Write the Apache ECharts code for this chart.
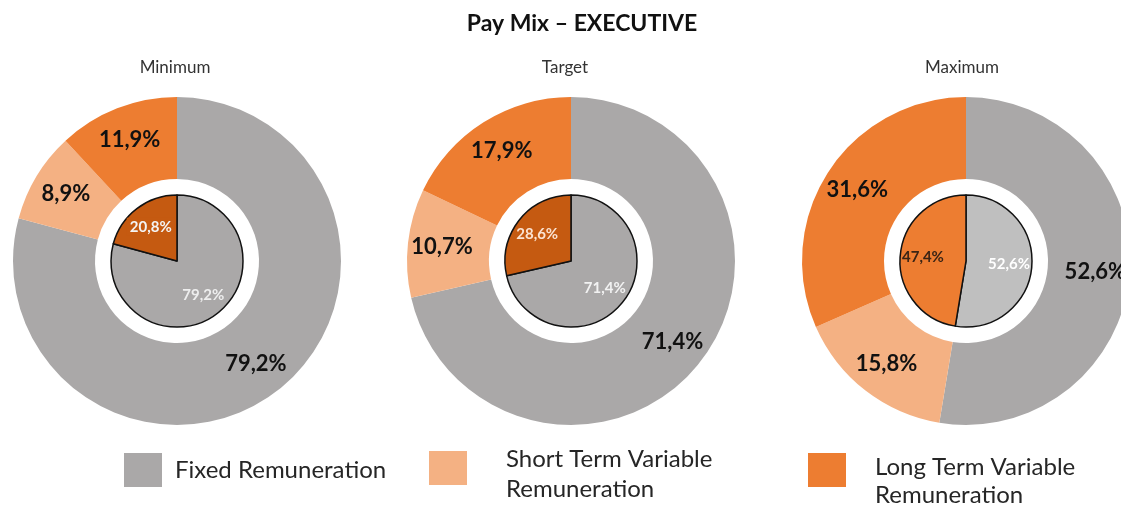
<!DOCTYPE html>
<html>
<head>
<meta charset="utf-8">
<script src="https://cdn.jsdelivr.net/npm/echarts@6/dist/echarts.min.js"></script>
<style>
  html, body { margin: 0; padding: 0; background: #ffffff; }
  #chart { width: 1121px; height: 506px; }
</style>
</head>
<body>
<div id="chart"></div>
<script>
// ---- data ----
const chartTitle = 'Pay Mix – EXECUTIVE';
const scenarios = ['Minimum', 'Target', 'Maximum'];
const componentNames = ['Fixed Remuneration', 'Short Term Variable Remuneration', 'Long Term Variable Remuneration'];
const variableName = 'Variable Remuneration';
const fixedShare = [79.2, 71.4, 52.6];
const shortTermShare = [8.9, 10.7, 15.8];
const longTermShare = [11.9, 17.9, 31.6];
const variableShare = [20.8, 28.6, 47.4];

// ---- styling ----
const FONT = 'Lato, "Open Sans", "DejaVu Sans", sans-serif';
const GRAY = '#aaa8a8';
const LIGHT_ORANGE = '#f4b183';
const ORANGE = '#ed7d31';
const DARK_ORANGE = '#c55a11';
const LIGHT_GRAY = '#bfbfbf';

const centersX = [177, 571, 966];
const centerY = 261;
const OUTER_R = [82, 164];
const INNER_R = 66;

// inner pie look per scenario
const innerFixedColor = [GRAY, GRAY, LIGHT_GRAY];
const innerVarColor = [DARK_ORANGE, DARK_ORANGE, ORANGE];
const innerFixedLabel = ['#eeeeee', '#f2f2f2', '#ffffff'];
const innerVarLabel = ['#f4f4f4', '#fbe3d2', '#3a2415'];

const pct = v => v.toFixed(1).replace('.', ',') + '%';

// push a pie's labels radially outward by factor k from its centre
const radialShift = (cx, cy, k) => params => {
  const r = params.labelRect;
  const lx = r.x + r.width / 2;
  const ly = r.y + r.height / 2;
  return { x: cx + (lx - cx) * k, y: cy + (ly - cy) * k };
};

const series = [];
scenarios.forEach((name, i) => {
  const cx = centersX[i];
  series.push({
    name: name,
    type: 'pie',
    center: [cx, centerY],
    radius: OUTER_R,
    startAngle: 90,
    clockwise: true,
    avoidLabelOverlap: false,
    silent: true,
    emphasis: { disabled: true },
    labelLine: { show: false },
    label: {
      show: true,
      position: 'inside',
      formatter: p => pct(p.value),
      color: '#111111',
      fontFamily: FONT,
      fontWeight: 'bold',
      fontSize: 22
    },
    labelLayout: radialShift(cx, centerY, 1.03),
    data: [
      { name: componentNames[0], value: fixedShare[i], itemStyle: { color: GRAY } },
      { name: componentNames[1], value: shortTermShare[i], itemStyle: { color: LIGHT_ORANGE } },
      { name: componentNames[2], value: longTermShare[i], itemStyle: { color: ORANGE } }
    ]
  });
});
scenarios.forEach((name, i) => {
  const cx = centersX[i];
  const varLabel = { color: innerVarLabel[i] };
  if (i === 0) {
    varLabel.backgroundColor = DARK_ORANGE;
    varLabel.padding = [2, 3, 1, 3];
  }
  series.push({
    name: name + ' split',
    type: 'pie',
    center: [cx, centerY],
    radius: [0, INNER_R],
    startAngle: 90,
    clockwise: true,
    avoidLabelOverlap: false,
    silent: true,
    emphasis: { disabled: true },
    labelLine: { show: false },
    itemStyle: { borderColor: '#111111', borderWidth: 1.5 },
    label: {
      show: true,
      position: 'inside',
      formatter: p => pct(p.value),
      fontFamily: FONT,
      fontWeight: 'bold',
      fontSize: 15
    },
    labelLayout: radialShift(cx, centerY, 1.2),
    data: [
      { name: componentNames[0], value: fixedShare[i], itemStyle: { color: innerFixedColor[i] }, label: { color: innerFixedLabel[i] } },
      { name: variableName, value: variableShare[i], itemStyle: { color: innerVarColor[i] }, label: varLabel }
    ]
  });
});

// one legend per component so each can sit at its own spot;
// a blank first line (height "gap") nudges two-line captions downwards
const legendSpec = [
  { left: 124, top: 453, padLeft: 8, lines: ['Fixed Remuneration'], lh: 30, gap: 0 },
  { left: 429, top: 436, padLeft: 34, lines: ['Short Term Variable', 'Remuneration'], lh: 30, gap: 12 },
  { left: 808, top: 440, padLeft: 24, lines: ['Long Term Variable', 'Remuneration'], lh: 28, gap: 22 }
];
const legends = componentNames.map((n, i) => {
  const spec = legendSpec[i];
  const body = spec.lines.map(l => '{t|' + l + '}').join('\n');
  return {
    data: [n],
    left: spec.left,
    top: spec.top,
    padding: 0,
    icon: 'rect',
    itemWidth: 38,
    itemHeight: 34,
    selectedMode: false,
    formatter: () => (spec.gap ? '{s| }\n' : '') + body,
    textStyle: {
      padding: [0, 0, 0, spec.padLeft],
      rich: {
        s: { fontSize: 4, lineHeight: spec.gap },
        t: { fontFamily: FONT, fontSize: 24, color: '#262626', lineHeight: spec.lh }
      }
    }
  };
});

const titles = [{
  text: chartTitle,
  left: 582,
  top: 11,
  textAlign: 'center',
  padding: 0,
  textStyle: { fontFamily: FONT, fontSize: 23, fontWeight: 'bold', color: '#111111', lineHeight: 26 }
}].concat(scenarios.map((s, i) => ({
  text: s,
  left: [175, 565, 962][i],
  top: 58,
  textAlign: 'center',
  padding: 0,
  textStyle: { fontFamily: FONT, fontSize: 17, fontWeight: 'normal', color: '#333333', lineHeight: 20 }
})));

const chart = echarts.init(document.getElementById('chart'), null, { renderer: 'canvas' });
chart.setOption({
  backgroundColor: '#ffffff',
  animation: false,
  title: titles,
  legend: legends,
  series: series
});
</script>
</body>
</html>
